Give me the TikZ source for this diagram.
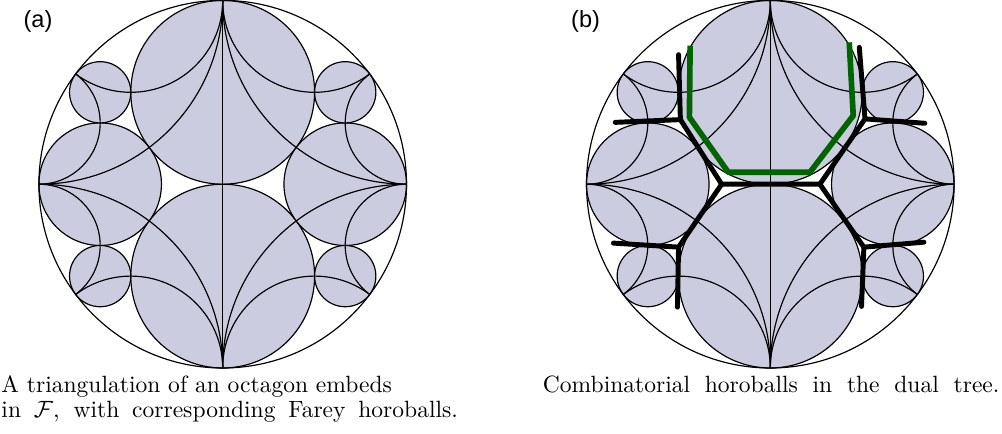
\documentclass[tikz,border=0pt]{standalone}
\usepackage{fontspec}
\newfontfamily\labelfont{Liberation Sans}
\definecolor{horo}{RGB}{204,204,224}
\definecolor{treegreen}{RGB}{0,100,0}
\tikzset{
  horoball/.style={fill=horo, draw=black, line width=0.5pt},
  geod/.style={draw=black, line width=0.5pt},
  dualtree/.style={draw=black, line width=2.1pt, line cap=round, line join=round},
  greenpath/.style={draw=treegreen, line width=2.4pt, line join=round},
  panellabel/.style={font=\labelfont\fontsize{10}{12}\selectfont, inner sep=0pt},
  captext/.style={anchor=base west, inner sep=0pt, font=\fontsize{10}{12}\selectfont}
}
\newcommand\fareydisk{%
  \path[horoball] (0,0.5) circle (0.5);
  \path[horoball] (0,-0.5) circle (0.5);
  \path[horoball] (0.66667,0) circle (0.33333);
  \path[horoball] (-0.66667,0) circle (0.33333);
  \path[horoball] (0.66667,0.5) circle (0.16667);
  \path[horoball] (-0.66667,0.5) circle (0.16667);
  \path[horoball] (0.66667,-0.5) circle (0.16667);
  \path[horoball] (-0.66667,-0.5) circle (0.16667);
  \begin{scope}
    \clip (0,0) circle (1);
    \draw[geod] (0,-1) -- (0,1);
    \draw[geod] (1,1) circle (1);
    \draw[geod] (-1,1) circle (1);
    \draw[geod] (1,-1) circle (1);
    \draw[geod] (-1,-1) circle (1);
    \draw[geod] (0.5,1) circle (0.5);
    \draw[geod] (-0.5,1) circle (0.5);
    \draw[geod] (0.5,-1) circle (0.5);
    \draw[geod] (-0.5,-1) circle (0.5);
    \draw[geod] (1,0.33333) circle (0.33333);
    \draw[geod] (1,-0.33333) circle (0.33333);
    \draw[geod] (-1,0.33333) circle (0.33333);
    \draw[geod] (-1,-0.33333) circle (0.33333);
  \end{scope}
  \draw[geod] (0,0) circle (1);
}
\begin{document}
\begin{tikzpicture}[x=0.425pt, y=0.425pt]
\useasboundingbox (0,-433) rectangle (1002,0);
% panel (a)
\begin{scope}[shift={(222.7,-184.2)}, scale=183.8]
  \fareydisk
\end{scope}
% panel (b)
\begin{scope}[shift={(770.3,-184.2)}, scale=183.8]
  \fareydisk
  \coordinate (tA) at (-0.265,0);
  \coordinate (tB) at (0.27,0);
  \coordinate (tC) at (-0.49,0.352);
  \coordinate (tC1) at (-0.50,0.706);
  \coordinate (tC2) at (-0.845,0.337);
  \coordinate (tD) at (-0.50,-0.343);
  \coordinate (tD1) at (-0.506,-0.67);
  \coordinate (tD2) at (-0.855,-0.321);
  \coordinate (tE) at (0.516,0.356);
  \coordinate (tE1) at (0.485,0.746);
  \coordinate (tE2) at (0.842,0.332);
  \coordinate (tF) at (0.51,-0.343);
  \coordinate (tF1) at (0.497,-0.666);
  \coordinate (tF2) at (0.837,-0.316);
  \draw[dualtree] (tC1) -- (tC) -- (tA) -- (tB) -- (tE) -- (tE1);
  \draw[dualtree] (tC2) -- (tC);
  \draw[dualtree] (tE2) -- (tE);
  \draw[dualtree] (tD1) -- (tD) -- (tA);
  \draw[dualtree] (tD2) -- (tD);
  \draw[dualtree] (tF1) -- (tF) -- (tB);
  \draw[dualtree] (tF2) -- (tF);
  \coordinate (g1) at (-0.437,0.755);
  \coordinate (g2) at (-0.441,0.365);
  \coordinate (g3) at (-0.229,0.065);
  \coordinate (g4) at (0.216,0.065);
  \coordinate (g5) at (0.452,0.374);
  \coordinate (g6) at (0.43,0.773);
  \draw[greenpath] (g1) -- (g2) -- (g3) -- (g4) -- (g5) -- (g6);
\end{scope}
\node[panellabel] (la) at (38,-21) {(a)};
\node[panellabel] (lb) at (585.6,-21) {(b)};
\node[captext] (capa1) at (1,-392) {A triangulation of an octagon embeds};
\node[captext] (capa2) at (1,-417) {\makebox[194pt][s]{in $\mathcal{F}$, with corresponding Farey horoballs.}};
\node[captext] (capb) at (542.5,-392) {\makebox[194pt][s]{Combinatorial horoballs in the dual tree.}};
\end{tikzpicture}
\end{document}
